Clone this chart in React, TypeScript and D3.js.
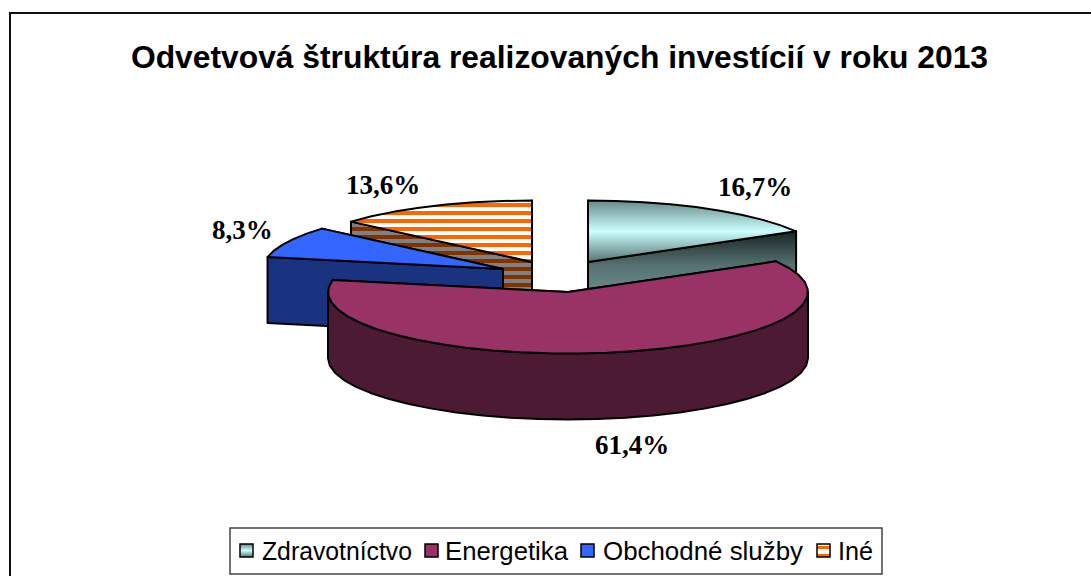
import React from "react";
import * as d3 from "d3";

const titleText = "Odvetvová štruktúra realizovaných investícií v roku 2013";
const categories = ["Zdravotníctvo", "Energetika", "Obchodné služby", "Iné"];
const shares = [16.7, 61.4, 8.3, 13.6];
const shareLabels = ["16,7%", "61,4%", "8,3%", "13,6%"];

// Layout (separate from the data)
const RX = 240;
const RY = 61.5;
const DEPTH = 66;
const apexes: [number, number][] = [[588, 262], [568, 292], [503, 269], [532, 262]];
const labelPos: [number, number][] = [[718, 196], [595, 454], [212, 239], [346, 194]];
const topFills = ["url(#zTop)", "#993366", "#3366ff", "url(#ineTop)"];
const sideFills = ["url(#zSide)", "#4d1a33", "#1a3380", "url(#ineSide)"];
const swatchFills = ["url(#zTop)", "#993366", "#3366ff", "url(#ineSwatch)"];
const drawOrder = [3, 0, 2, 1];
const legendSwatchX = [240, 425, 581, 817];
const legendTextX = [262, 445, 603, 838];
const legendTextW = [150, 123, 200, 35];

const pie = d3.pie<number>().sort(null).value((d) => d);
const arcs = pie(shares);
const line = d3.line<[number, number]>().x((d) => d[0]).y((d) => d[1]);

const rimPoint = (i: number, a: number): [number, number] => [
  apexes[i][0] + RX * Math.sin(a),
  apexes[i][1] - RY * Math.cos(a),
];
const STEP = (7 * Math.PI) / 180;
const rim = (i: number, a0: number, a1: number): [number, number][] => {
  const n = Math.max(1, Math.ceil((a1 - a0) / STEP));
  return d3.range(n + 1).map((k) => rimPoint(i, a0 + ((a1 - a0) * k) / n));
};
const down = (p: [number, number]): [number, number] => [p[0], p[1] + DEPTH];

const Slice: React.FC<{ i: number }> = ({ i }) => {
  const { startAngle: a0, endAngle: a1 } = arcs[i];
  const apex = apexes[i];
  const stroke = { stroke: "#000", strokeWidth: 2, strokeLinejoin: "round" as const };
  const faceStart: [number, number][] = [apex, rimPoint(i, a0), down(rimPoint(i, a0)), down(apex)];
  const faceEnd: [number, number][] = [apex, rimPoint(i, a1), down(rimPoint(i, a1)), down(apex)];
  const lo = Math.max(a0, Math.PI / 2);
  const hi = Math.min(a1, (3 * Math.PI) / 2);
  const outer = hi > lo ? rim(i, lo, hi) : null;
  return (
    <g>
      <path d={line(faceEnd)! + "Z"} fill={sideFills[i]} {...stroke} />
      <path d={line(faceStart)! + "Z"} fill={sideFills[i]} {...stroke} />
      {outer && (
        <path d={line([...outer, ...outer.slice().reverse().map(down)])! + "Z"} fill={sideFills[i]} {...stroke} />
      )}
      <path d={line([apex, ...rim(i, a0, a1)])! + "Z"} fill={topFills[i]} {...stroke} />
    </g>
  );
};

export default function App() {
  return (
    <svg
      width={1091}
      height={576}
      viewBox="0 0 1091 576"
      style={{ position: "absolute", left: 0, top: 0, display: "block", background: "#fff" }}
    >
      <defs>
        <linearGradient id="zTop" x1="0" y1="0" x2="0" y2="1">
          <stop offset="0" stopColor="#668a88" />
          <stop offset="0.5" stopColor="#ccffff" />
          <stop offset="1" stopColor="#557573" />
        </linearGradient>
        <linearGradient id="zSide" gradientUnits="userSpaceOnUse" x1="0" y1="232" x2="0" y2="292">
          <stop offset="0" stopColor="#1a2626" />
          <stop offset="0.55" stopColor="#557070" />
          <stop offset="1" stopColor="#6a8c8a" />
        </linearGradient>
        <pattern id="ineTop" patternUnits="userSpaceOnUse" width={8} height={8} y={203}>
          <rect width={8} height={8} fill="#fff" />
          <rect width={8} height={4} fill="#ff6600" />
        </pattern>
        <pattern id="ineSide" patternUnits="userSpaceOnUse" width={8} height={8} y={203}>
          <rect width={8} height={8} fill="#808080" />
          <rect width={8} height={4} fill="#803300" />
        </pattern>
        <pattern id="ineSwatch" patternUnits="userSpaceOnUse" width={8} height={8} y={543}>
          <rect width={8} height={8} fill="#fff" />
          <rect width={8} height={3} y={3} fill="#ff6600" />
        </pattern>
      </defs>

      <rect x={10} y={14} width={1200} height={700} fill="none" stroke="#aaa" strokeWidth={1} />
      <rect x={10} y={13} width={1200} height={700} fill="#fff" stroke="#111" strokeWidth={2} />

      <text
        x={559.5}
        y={68}
        textAnchor="middle"
        fontFamily="'Liberation Sans', Arial, sans-serif"
        fontWeight="bold"
        fontSize={31.8}
        fill="#000"
      >
        {titleText}
      </text>

      {drawOrder.map((i) => (
        <Slice key={i} i={i} />
      ))}

      {shareLabels.map((t, i) => (
        <text
          key={t}
          x={labelPos[i][0]}
          y={labelPos[i][1]}
          fontFamily="'Liberation Serif', 'Times New Roman', serif"
          fontWeight="bold"
          fontSize={27}
          fill="#000"
        >
          {t}
        </text>
      ))}

      <rect x={230} y={528} width={652} height={46} fill="#fff" stroke="#444" strokeWidth={1.5} />
      {categories.map((c, i) => (
        <g key={c}>
          <rect
            x={legendSwatchX[i]}
            y={544}
            width={13}
            height={13}
            fill={swatchFills[i]}
            stroke="#000"
            strokeWidth={1.5}
          />
          <text
            x={legendTextX[i]}
            y={560}
            fontFamily="'Liberation Sans', Arial, sans-serif"
            fontSize={26}
            textLength={legendTextW[i]}
            lengthAdjust="spacingAndGlyphs"
            fill="#000"
          >
            {c}
          </text>
        </g>
      ))}
    </svg>
  );
}
